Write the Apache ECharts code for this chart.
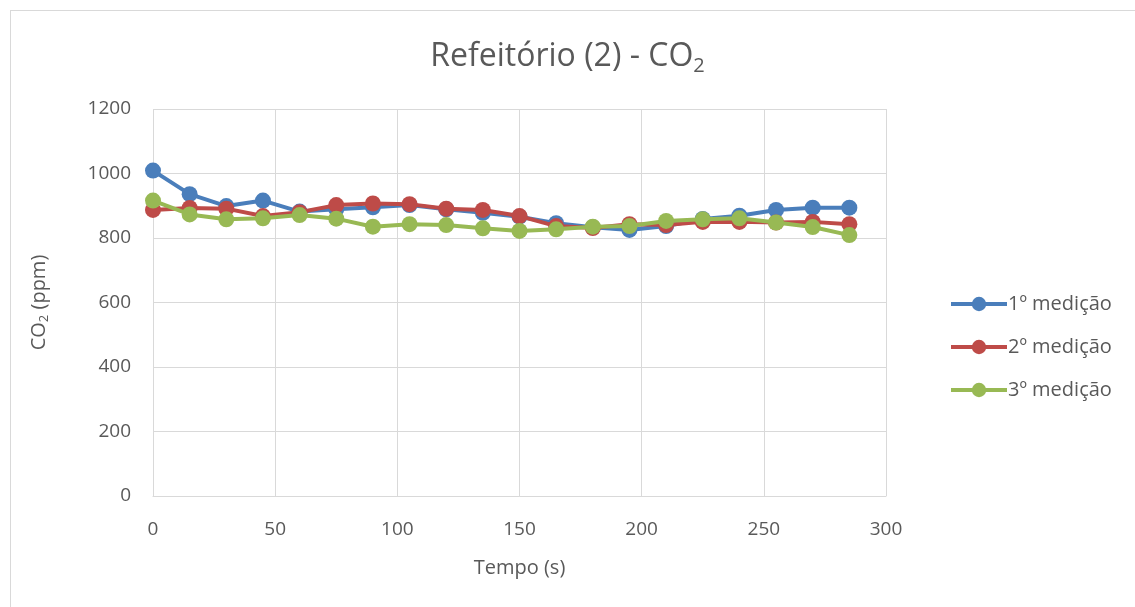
<!DOCTYPE html>
<html>
<head>
<meta charset="utf-8">
<script src="https://cdn.jsdelivr.net/npm/echarts@6/dist/echarts.min.js"></script>
<style>
  html, body { margin: 0; padding: 0; background: #ffffff; }
  #frame { position: absolute; left: 10px; top: 10px; width: 1135px; height: 607px; border: 1px solid #d9d9d9; box-sizing: border-box; }
  #chart { position: absolute; left: 0; top: 0; width: 1135px; height: 607px; }
</style>
</head>
<body>
<div id="frame"></div>
<div id="chart"></div>
<script>
// Time in seconds
const tempo = [0, 15, 30, 45, 60, 75, 90, 105, 120, 135, 150, 165, 180, 195, 210, 225, 240, 255, 270, 285];
// CO2 concentration (ppm) per measurement run
const medicao1 = [1009, 936, 899, 916, 882, 889, 895, 902, 889, 878, 866, 846, 833, 825, 837, 859, 869, 887, 894, 894];
const medicao2 = [887, 893, 891, 868, 880, 902, 907, 905, 891, 887, 868, 837, 831, 843, 840, 850, 850, 848, 850, 843];
const medicao3 = [916, 873, 858, 861, 871, 860, 835, 843, 840, 830, 822, 827, 835, 837, 853, 858, 861, 848, 834, 809];
const seriesNames = ['1º medição', '2º medição', '3º medição'];
const colors = ['#4A7EBB', '#BE4B48', '#98B954'];

const pairs = arr => tempo.map((t, i) => [t, arr[i]]);
const FONT = 'Open Sans, Liberation Sans, sans-serif';
const TEXT = '#595959';

const chart = echarts.init(document.getElementById('chart'));
chart.setOption({
  animation: false,
  color: colors,
  title: {
    text: 'Refeitório (2) - CO{sub|2}',
    left: 'center',
    top: 33,
    textStyle: {
      fontFamily: FONT, fontSize: 32, fontWeight: 'normal', color: TEXT,
      rich: { sub: { fontFamily: FONT, fontSize: 20, color: TEXT, padding: [18, 0, 0, 0] } }
    }
  },
  legend: {
    orient: 'vertical',
    left: 944,
    top: 289,
    itemGap: 23,
    itemWidth: 56,
    itemHeight: 18,
    lineStyle: { width: 4 },
    textStyle: { fontFamily: FONT, fontSize: 20, color: TEXT, padding: [0, 0, 0, -4] },
    data: seriesNames
  },
  grid: { left: 153, right: 249, top: 109, bottom: 111 },
  xAxis: {
    type: 'value',
    min: 0, max: 300, interval: 50,
    name: 'Tempo (s)',
    nameLocation: 'middle',
    nameGap: 62,
    nameTextStyle: { fontFamily: FONT, fontSize: 20, color: TEXT },
    axisLine: { show: true, lineStyle: { color: '#d9d9d9', width: 1 } },
    axisTick: { show: false },
    axisLabel: { fontFamily: FONT, fontSize: 19, color: TEXT, margin: 24 },
    splitLine: { show: true, lineStyle: { color: '#d9d9d9', width: 1 } }
  },
  yAxis: {
    type: 'value',
    min: 0, max: 1200, interval: 200,
    name: 'CO{sub|2} (ppm)',
    nameLocation: 'middle',
    nameGap: 102,
    nameRotate: 90,
    nameTextStyle: {
      fontFamily: FONT, fontSize: 20, color: TEXT,
      rich: { sub: { fontFamily: FONT, fontSize: 13, color: TEXT, padding: [10, 0, 0, 0] } }
    },
    axisLine: { show: false },
    axisTick: { show: false },
    axisLabel: { fontFamily: FONT, fontSize: 19, color: TEXT, margin: 22, formatter: v => String(v) },
    splitLine: { show: true, lineStyle: { color: '#d9d9d9', width: 1 } }
  },
  series: [medicao1, medicao2, medicao3].map((arr, i) => ({
    name: seriesNames[i],
    type: 'line',
    data: pairs(arr),
    symbol: 'circle',
    symbolSize: 16,
    lineStyle: { width: 4, color: colors[i] },
    itemStyle: { color: colors[i] },
    z: 2 + i
  }))
});
</script>
</body>
</html>
